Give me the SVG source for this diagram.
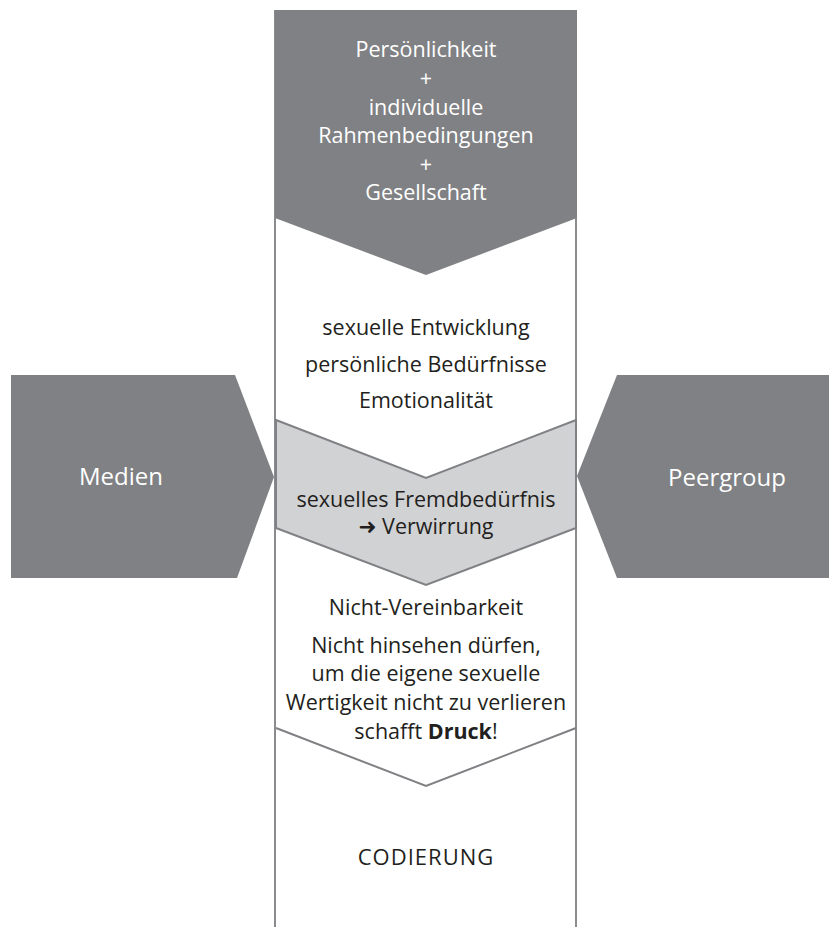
<svg xmlns="http://www.w3.org/2000/svg" width="829" height="927" viewBox="0 0 829 927">
<style>
.dark{fill:#808184}
.light{fill:#d1d2d4;stroke:#808184;stroke-width:2}
.col{stroke:#8a8b8e;stroke-width:2;fill:none}
.line{stroke:#808184;stroke-width:2;fill:none}
text{font-family:"Open Sans","Noto Sans","DejaVu Sans",sans-serif;text-anchor:middle}
.w{fill:#ffffff;font-size:21.5px}
.b{fill:#231f20;font-size:21.5px}
.side{fill:#ffffff;font-size:24px}
</style>
<rect width="829" height="927" fill="#ffffff"/>
<g id="connectors">
<line class="col" x1="275" y1="10" x2="275" y2="927"/>
<line class="col" x1="576" y1="10" x2="576" y2="927"/>
</g>
<g id="top">
<polygon class="dark" points="275,10 577,10 577,218 426,275 275,218"/>
<text class="w" x="426" y="57">Persönlichkeit</text>
<text class="w" x="426" y="86">+</text>
<text class="w" x="426" y="115">individuelle</text>
<text class="w" x="426" y="143">Rahmenbedingungen</text>
<text class="w" x="426" y="172">+</text>
<text class="w" x="426" y="200">Gesellschaft</text>
</g>
<g id="development">
<text class="b" x="426" y="335">sexuelle Entwicklung</text>
<text class="b" x="426" y="372">persönliche Bedürfnisse</text>
<text class="b" x="426" y="408">Emotionalität</text>
</g>
<g id="confusion">
<polygon class="light" points="276,420 426,478 576,420 576,528 426,585 276,528"/>
<text class="b" x="426" y="507">sexuelles Fremdbedürfnis</text>
<text class="b" x="426" y="534"><tspan font-family="DejaVu Sans,sans-serif" font-weight="bold">➜</tspan> Verwirrung</text>
</g>
<g id="pressure">
<polyline class="line" points="276,728 426,786 576,728"/>
<text class="b" x="426" y="615">Nicht-Vereinbarkeit</text>
<text class="b" x="426" y="653">Nicht hinsehen dürfen,</text>
<text class="b" x="426" y="681">um die eigene sexuelle</text>
<text class="b" x="426" y="710">Wertigkeit nicht zu verlieren</text>
<text class="b" x="426" y="739">schafft <tspan font-weight="bold">Druck</tspan>!</text>
</g>
<g id="coding">
<text class="b" x="426" y="865" style="font-size:22px;letter-spacing:1px">CODIERUNG</text>
</g>
<g id="medien">
<polygon class="dark" points="11,375 235,375 274,477 237,578 11,578"/>
<text class="side" x="121" y="485">Medien</text>
</g>
<g id="peergroup">
<polygon class="dark" points="617,375 829,375 829,578 617,578 577,476"/>
<text class="side" x="727" y="486">Peergroup</text>
</g>
</svg>
